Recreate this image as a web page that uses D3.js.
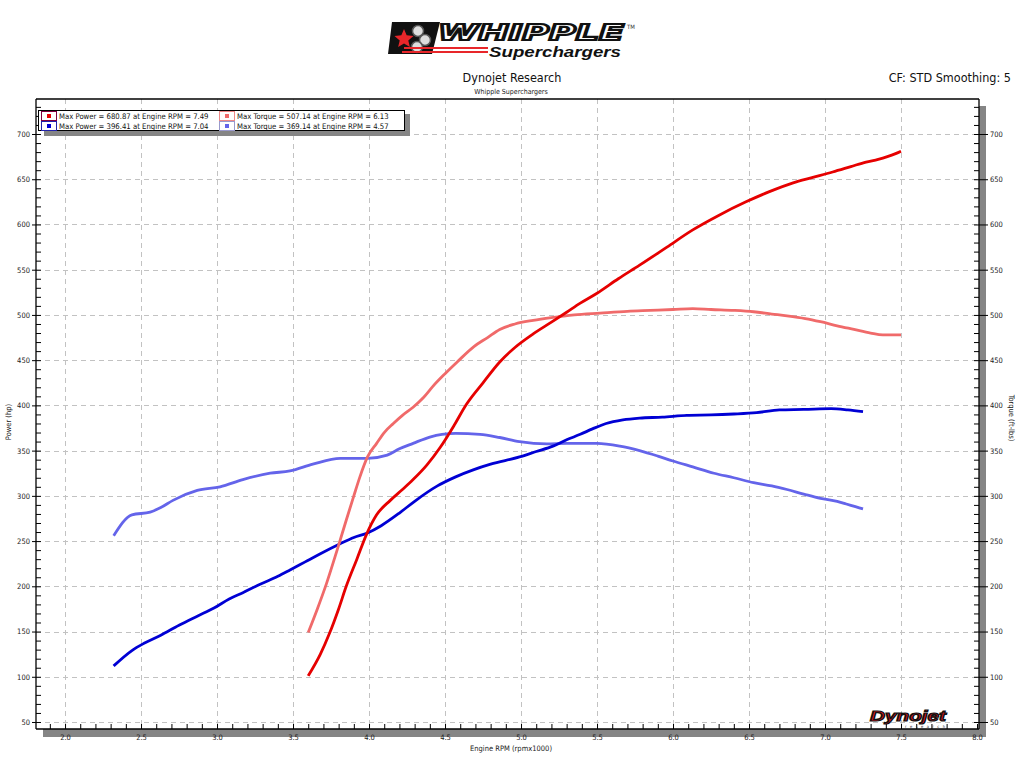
<!DOCTYPE html>
<html><head><meta charset="utf-8">
<script src="https://cdn.jsdelivr.net/npm/d3@7"></script>
<style>body{margin:0;background:#fff}svg{display:block}text{font-family:"DejaVu Sans Condensed","DejaVu Sans",sans-serif}</style>
</head><body><svg id="c" width="1024" height="768"></svg>
<script>
// ---------- data ----------
const run1PowerRpm = [3.60,3.68,3.74,3.80,3.85,3.92,3.985,4.05,4.14,4.22,4.29,4.38,4.47,4.56,4.64,4.75,4.86,4.96,5.08,5.20,5.30,5.39,5.50,5.64,5.78,5.96,6.13,6.30,6.48,6.63,6.79,6.92,7.05,7.17,7.27,7.35,7.41,7.46,7.50];
const run1Power    = [101,125,148,175,200,230,258,279,295,307,318,334,354,378,401,425,448,464,479,492,503,513,524,540,555,575,594,610,625,636,646,652,658,664,669,672,675,678,681];
const run1TorqueRpm = [3.60,3.66,3.72,3.79,3.85,3.90,3.94,3.99,4.05,4.10,4.16,4.22,4.29,4.36,4.42,4.50,4.58,4.69,4.78,4.86,4.96,5.08,5.20,5.35,5.52,5.70,5.85,6.00,6.13,6.25,6.40,6.53,6.65,6.75,6.87,6.97,7.08,7.19,7.30,7.38,7.50];
const run1Torque    = [149,175,203,240,273,300,321,343,358,370,380,389,398,409,421,435,448,465,475,484,490,494,497,500,502,504,505,506,507,506,505,503.5,501,499,496,492.5,488,484,480,478,478];
const run2PowerRpm = [2.32,2.44,2.52,2.63,2.75,2.87,2.98,3.08,3.17,3.28,3.40,3.48,3.58,3.68,3.81,3.90,3.99,4.08,4.20,4.30,4.45,4.57,4.69,4.80,4.99,5.10,5.21,5.30,5.39,5.47,5.56,5.67,5.78,5.93,6.09,6.25,6.40,6.55,6.70,6.86,7.04,7.15,7.25];
const run2Power    = [112,129,137,146,157,167,176,186,193,202,211,218,227,236,247,254,259,267,281,294,311,321,329,335,343,349,355,362,368,374,380,384,386,387,389,389.5,390.5,392,395,395.5,396.4,395,393];
const run2TorqueRpm = [2.32,2.44,2.56,2.63,2.71,2.87,3.02,3.17,3.35,3.48,3.63,3.81,3.99,4.12,4.20,4.29,4.40,4.48,4.57,4.73,4.86,4.99,5.17,5.30,5.50,5.65,5.78,5.90,6.00,6.13,6.27,6.40,6.53,6.65,6.75,6.86,6.97,7.08,7.14,7.20,7.25];
const run2Torque    = [256,279,282,287,295,306,310,318,325,327.5,335,341.5,341.5,345,352,358,365,368,369.1,368,364.5,360,357.5,358,358,355,350,344,338.5,332,325,320,314.6,311,307,302,297.3,294,291,288,285.5];

const xMajorTicks = [2.0,2.5,3.0,3.5,4.0,4.5,5.0,5.5,6.0,6.5,7.0,7.5,8.0];
const yMajorTicks = [50,100,150,200,250,300,350,400,450,500,550,600,650,700];
const legendLabels = [
  ["Max Power = 680.87 at Engine RPM = 7.49", "Max Torque = 507.14 at Engine RPM = 6.13"],
  ["Max Power = 396.41 at Engine RPM = 7.04", "Max Torque = 369.14 at Engine RPM = 4.57"]
];
const seriesColors = {p1:"#e60000", t1:"#f06a6a", p2:"#0000d4", t2:"#6464ea"};

// ---------- layout ----------
const L = 36, R = 979, T = 99, B = 729;
const svg = d3.select("#c");
const x = d3.scaleLinear().domain([1.809, 8.013]).range([L, R]);
const y = d3.scaleLinear().domain([42.26, 738.7]).range([B, T]);

// shadows
svg.append("rect").attr("x", R).attr("y", T + 7).attr("width", 7).attr("height", B - T + 1).attr("fill", "#858585");
svg.append("rect").attr("x", L + 7).attr("y", B).attr("width", R - L).attr("height", 8).attr("fill", "#858585");

// grid
const grid = svg.append("g").attr("stroke", "#c2c2c2").attr("stroke-dasharray", "5,4").attr("stroke-width", 1);
xMajorTicks.filter(v => v < 8).forEach(v => grid.append("line").attr("x1", Math.round(x(v)) + .5).attr("x2", Math.round(x(v)) + .5).attr("y1", T).attr("y2", B));
yMajorTicks.forEach(v => grid.append("line").attr("y1", Math.round(y(v)) + .5).attr("y2", Math.round(y(v)) + .5).attr("x1", L).attr("x2", R));

// lines
const line = d3.line().x(d => x(d[0])).y(d => y(d[1])).curve(d3.curveMonotoneX);
function draw(rpm, vals, col, w) {
  svg.append("path").datum(rpm.map((r, i) => [r, vals[i]])).attr("d", line)
    .attr("fill", "none").attr("stroke", col).attr("stroke-width", w).attr("stroke-linejoin", "round");
}
draw(run2TorqueRpm, run2Torque, seriesColors.t2, 2.8);
draw(run2PowerRpm, run2Power, seriesColors.p2, 2.8);
draw(run1TorqueRpm, run1Torque, seriesColors.t1, 2.8);
draw(run1PowerRpm, run1Power, seriesColors.p1, 2.8);

// axes
const minorY = d3.range(50, 731, 10);
const minorX = d3.range(19, 81, 1).map(v => v / 10);
function styleAxis(g) { g.select(".domain").remove(); g.selectAll("line").attr("stroke", "#000"); g.selectAll("text").attr("font-size", 7.5).attr("fill", "#222"); }
svg.append("g").attr("transform", `translate(${L},0)`).call(d3.axisRight(y).tickValues(minorY).tickSize(5).tickFormat("")).call(styleAxis);
svg.append("g").attr("transform", `translate(${L},0)`).call(d3.axisLeft(y).tickValues(yMajorTicks).tickSize(4).tickPadding(2).tickFormat(d3.format("d"))).call(styleAxis);
svg.append("g").attr("transform", `translate(${R},0)`).call(d3.axisLeft(y).tickValues(minorY).tickSize(5).tickFormat("")).call(styleAxis);
svg.append("g").attr("transform", `translate(${R},0)`).call(d3.axisRight(y).tickValues(yMajorTicks).tickSize(9).tickPadding(2).tickFormat(d3.format("d"))).call(styleAxis);
svg.append("g").attr("transform", `translate(0,${B})`).call(d3.axisTop(x).tickValues(minorX).tickSize(5).tickFormat("")).call(styleAxis);
svg.append("g").attr("transform", `translate(0,${B})`).call(d3.axisBottom(x).tickValues(xMajorTicks).tickSize(0).tickPadding(6).tickFormat(d3.format(".1f"))).call(styleAxis);

// frame
const fr = svg.append("g").attr("stroke", "#000").attr("stroke-width", 1.3);
fr.append("line").attr("x1", L).attr("x2", R).attr("y1", T).attr("y2", T);
fr.append("line").attr("x1", L).attr("x2", L).attr("y1", T).attr("y2", B);
fr.append("line").attr("x1", R).attr("x2", R).attr("y1", T).attr("y2", B);
fr.append("line").attr("x1", L).attr("x2", R).attr("y1", B).attr("y2", B);

// axis titles
svg.append("text").attr("transform", "translate(11,422) rotate(-90)").attr("text-anchor", "middle").attr("font-size", 7.5).attr("fill", "#222").text("Power (hp)");
svg.append("text").attr("transform", "translate(1009,418) rotate(90)").attr("text-anchor", "middle").attr("font-size", 7.5).attr("fill", "#222").text("Torque (ft-lbs)");
svg.append("text").attr("x", 511).attr("y", 751).attr("text-anchor", "middle").attr("font-size", 7.5).attr("fill", "#222").text("Engine RPM (rpmx1000)");

// titles
svg.append("text").attr("x", 512).attr("y", 82).attr("text-anchor", "middle").attr("font-size", 12.5).attr("fill", "#111").text("Dynojet Research");
svg.append("text").attr("x", 511).attr("y", 94).attr("text-anchor", "middle").attr("font-size", 7).attr("fill", "#222").text("Whipple Superchargers");
svg.append("text").attr("x", 1011).attr("y", 82).attr("text-anchor", "end").attr("font-size", 12.5).attr("fill", "#111").text("CF: STD Smoothing: 5");

// legend
const lg = svg.append("g");
lg.append("rect").attr("x", 44).attr("y", 114).attr("width", 366).attr("height", 22).attr("fill", "#858585");
lg.append("rect").attr("x", 38.5).attr("y", 110.5).attr("width", 366).attr("height", 20).attr("fill", "#fff").attr("stroke", "#000");
const legCols = [[seriesColors.p1, seriesColors.t1], [seriesColors.p2, seriesColors.t2]];
const legBorders = [["#800040", "#e88"], ["#2222aa", "#99c"]];
const colX = [41, 219];
legendLabels.forEach((row, ri) => row.forEach((lab, ci) => {
  const bx = colX[ci], by = 111 + ri * 10;
  lg.append("rect").attr("x", bx + .5).attr("y", by + .5).attr("width", 15).attr("height", 9).attr("fill", "#fff").attr("stroke", legBorders[ri][ci]);
  lg.append("rect").attr("x", bx + 6).attr("y", by + 3).attr("width", 4).attr("height", 4).attr("fill", legCols[ri][ci]);
  lg.append("text").attr("x", bx + 18).attr("y", by + 8).attr("font-size", 7.7).attr("fill", "#111").text(lab);
}));

// Whipple logo
const lo = svg.append("g");
lo.append("path").attr("d", "M392,22 L440,22 L432,54 L388,54 Z").attr("fill", "#111");
const star = d3.range(10).map(i => { const a = -Math.PI / 2 + i * Math.PI / 5, r = i % 2 ? 4.5 : 10; return [404 + r * Math.cos(a), 39 + r * Math.sin(a)]; });
lo.append("path").attr("d", d3.line()(star) + "Z").attr("fill", "#e8262a");
[[418, 31], [425, 40], [417, 47]].forEach(c => lo.append("circle").attr("cx", c[0]).attr("cy", c[1]).attr("r", 5.5).attr("fill", "#ddd").attr("stroke", "#555").attr("stroke-width", 1.5));
lo.append("text").attr("x", 438).attr("y", 40).attr("font-size", 21).attr("font-weight", "bold").attr("font-style", "italic").attr("textLength", 186).attr("lengthAdjust", "spacingAndGlyphs")
  .attr("fill", "#fff").attr("stroke", "#111").attr("stroke-width", 2.2).attr("style", "font-family:'DejaVu Sans',sans-serif").text("WHIPPLE");
lo.append("text").attr("x", 627).attr("y", 29).attr("font-size", 6).attr("fill", "#333").text("TM");
lo.append("rect").attr("x", 404).attr("y", 47).attr("width", 84).attr("height", 2).attr("fill", "#e8262a");
lo.append("rect").attr("x", 402).attr("y", 51).attr("width", 86).attr("height", 2).attr("fill", "#e8262a");
lo.append("text").attr("x", 489).attr("y", 57).attr("font-size", 14).attr("font-weight", "bold").attr("font-style", "italic").attr("textLength", 132).attr("lengthAdjust", "spacingAndGlyphs")
  .attr("fill", "#111").attr("style", "font-family:'Liberation Sans',sans-serif").text("Superchargers");

// Dynojet logo
const dj = svg.append("g");
dj.append("text").attr("x", 870).attr("y", 721).attr("font-size", 15).attr("font-weight", "bold").attr("font-style", "italic").attr("textLength", 76).attr("lengthAdjust", "spacingAndGlyphs")
  .attr("fill", "#d8141c").attr("stroke", "#111").attr("stroke-width", 1.2).attr("style", "font-family:'Liberation Sans',sans-serif").text("Dynojet");
dj.append("text").attr("x", 905).attr("y", 728).attr("font-size", 4).attr("fill", "#333").attr("textLength", 40).text("r e s e a r c h");
</script></body></html>
